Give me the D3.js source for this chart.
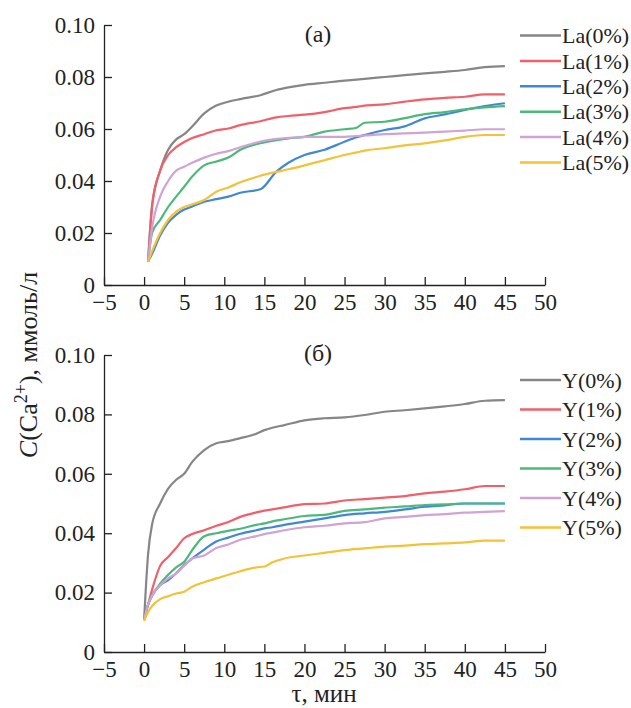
<!DOCTYPE html>
<html>
<head>
<meta charset="utf-8">
<script src="https://cdn.jsdelivr.net/npm/d3@7"></script>
<style>
  body { margin: 0; background: #fff; }
</style>
</head>
<body>
<div id="chart"></div>
<script>
// time grids (min)
var tLa = [0.5, 1, 2, 3, 4, 5, 6, 7.5, 9, 10.5, 12, 14.5, 16.5, 18, 20, 22.5, 25, 26.5, 27.5, 30, 32.5, 35, 37.5, 40, 42.5, 45];
var tY  = [0, 0.5, 1, 2, 3, 4, 5, 6, 7.5, 9, 10.5, 12, 14, 15, 16, 17.5, 20, 22.5, 25, 27.5, 30, 32.5, 35, 37.5, 40, 42.5, 45];

// panel (a): La
var la0 = [0.009, 0.031, 0.044, 0.052, 0.056, 0.058, 0.061, 0.066, 0.069, 0.0705, 0.0715, 0.073, 0.075, 0.076, 0.077, 0.0778, 0.0786, 0.079, 0.0793, 0.080, 0.0807, 0.0814, 0.082, 0.0827, 0.0838, 0.0842];
var la1 = [0.009, 0.030, 0.044, 0.050, 0.053, 0.055, 0.0565, 0.058, 0.0595, 0.0602, 0.0615, 0.063, 0.0645, 0.065, 0.0655, 0.0665, 0.068, 0.0685, 0.069, 0.0695, 0.0705, 0.0714, 0.072, 0.0724, 0.0733, 0.0733];
var la2 = [0.009, 0.012, 0.019, 0.024, 0.027, 0.029, 0.0302, 0.032, 0.033, 0.034, 0.0355, 0.0368, 0.0436, 0.047, 0.050, 0.052, 0.0551, 0.0568, 0.0577, 0.0596, 0.061, 0.0641, 0.0656, 0.0673, 0.0688, 0.0699];
var la3 = [0.009, 0.020, 0.025, 0.030, 0.034, 0.0378, 0.0417, 0.046, 0.0475, 0.049, 0.052, 0.0545, 0.0557, 0.0564, 0.057, 0.059, 0.0599, 0.0605, 0.0624, 0.0628, 0.0642, 0.0657, 0.0665, 0.0676, 0.0683, 0.0688];
var la4 = [0.009, 0.022, 0.034, 0.040, 0.044, 0.0455, 0.047, 0.049, 0.0505, 0.0515, 0.053, 0.0552, 0.0562, 0.0566, 0.057, 0.057, 0.057, 0.0573, 0.0575, 0.058, 0.0583, 0.0586, 0.059, 0.0594, 0.0599, 0.0599];
var la5 = [0.009, 0.013, 0.020, 0.025, 0.0282, 0.030, 0.031, 0.0327, 0.0359, 0.0375, 0.0395, 0.042, 0.0435, 0.0445, 0.046, 0.048, 0.050, 0.051, 0.0517, 0.0526, 0.0537, 0.0545, 0.0556, 0.057, 0.0577, 0.0577];

// panel (б): Y
var y0 = [0.0108, 0.033, 0.043, 0.050, 0.055, 0.058, 0.060, 0.064, 0.068, 0.0703, 0.071, 0.072, 0.0735, 0.0747, 0.0755, 0.0764, 0.078, 0.0787, 0.079, 0.0798, 0.0809, 0.0814, 0.082, 0.0827, 0.0835, 0.0846, 0.0848];
var y1 = [0.0108, 0.016, 0.021, 0.029, 0.032, 0.035, 0.0383, 0.0397, 0.041, 0.0425, 0.0438, 0.0455, 0.047, 0.0476, 0.048, 0.0487, 0.0498, 0.050, 0.051, 0.0515, 0.052, 0.0525, 0.0534, 0.054, 0.0548, 0.0559, 0.0559];
var y2 = [0.0108, 0.016, 0.019, 0.0225, 0.0242, 0.0265, 0.0293, 0.0315, 0.0345, 0.0372, 0.0385, 0.0398, 0.041, 0.0416, 0.042, 0.0428, 0.0439, 0.045, 0.0461, 0.0467, 0.0472, 0.048, 0.0489, 0.0494, 0.050, 0.050, 0.050];
var y3 = [0.0108, 0.016, 0.019, 0.023, 0.026, 0.0285, 0.0304, 0.0343, 0.039, 0.040, 0.0408, 0.0415, 0.0428, 0.0433, 0.044, 0.0447, 0.0458, 0.0462, 0.0475, 0.048, 0.0486, 0.049, 0.0495, 0.0497, 0.050, 0.050, 0.050];
var y4 = [0.0108, 0.016, 0.019, 0.0225, 0.0248, 0.0265, 0.029, 0.0315, 0.0325, 0.035, 0.0362, 0.0378, 0.039, 0.0397, 0.0402, 0.041, 0.042, 0.0425, 0.0433, 0.0437, 0.045, 0.0455, 0.0461, 0.0464, 0.0469, 0.0472, 0.0474];
var y5 = [0.0105, 0.0135, 0.0155, 0.0178, 0.0188, 0.0197, 0.0203, 0.022, 0.0235, 0.0248, 0.026, 0.0272, 0.0285, 0.0288, 0.0302, 0.0315, 0.0325, 0.0334, 0.0343, 0.0349, 0.0355, 0.0358, 0.0363, 0.0366, 0.0369, 0.0375, 0.0375];

var laNames = ["La(0%)", "La(1%)", "La(2%)", "La(3%)", "La(4%)", "La(5%)"];
var yNames  = ["Y(0%)", "Y(1%)", "Y(2%)", "Y(3%)", "Y(4%)", "Y(5%)"];
var colors  = ["#868686", "#f1606a", "#3f88d6", "#4cb97a", "#d0a2d6", "#f4c236"];

var xTicks = [-5, 0, 5, 10, 15, 20, 25, 30, 35, 40, 45, 50];
var yTicks = [0, 0.02, 0.04, 0.06, 0.08, 0.10];

var serif = "'Liberation Serif', serif";

var width = 631, height = 708;
var svg = d3.select("#chart").append("svg")
  .attr("width", width).attr("height", height);

var x = d3.scaleLinear().domain([-5, 50]).range([104, 545]);

function panel(opts) {
  var y = d3.scaleLinear().domain([0, 0.1]).range([opts.y0, opts.y1]);
  var g = svg.append("g");

  var xa = g.append("g")
    .attr("transform", "translate(0," + opts.y0 + ")")
    .call(d3.axisBottom(x).tickValues(xTicks).tickSizeInner(-8).tickSizeOuter(0).tickPadding(9));
  var ya = g.append("g")
    .attr("transform", "translate(104,0)")
    .call(d3.axisLeft(y).tickValues(yTicks).tickSizeInner(-8).tickSizeOuter(0).tickPadding(9)
      .tickFormat(function(d) { return d === 0 ? "0" : d3.format(".2f")(d); }));
  [xa, ya].forEach(function(a) {
    a.attr("font-family", null).attr("font-size", null);
    a.selectAll("path, line").attr("stroke", "#222").attr("stroke-width", 1.3);
    a.selectAll("text").style("font-size", "23px").style("font-family", serif).attr("fill", "#222");
  });

  var line = d3.line()
    .curve(d3.curveMonotoneX)
    .x(function(d) { return x(d[0]); })
    .y(function(d) { return y(d[1]); });

  opts.series.forEach(function(s, i) {
    g.append("path")
      .datum(opts.t.map(function(t, j) { return [t, s[j]]; }))
      .attr("fill", "none")
      .attr("stroke", colors[i])
      .attr("stroke-width", 2.2)
      .attr("stroke-linejoin", "round")
      .attr("d", line);
  });

  g.append("text")
    .attr("x", 318).attr("y", opts.titleY)
    .attr("text-anchor", "middle")
    .style("font-family", serif).style("font-size", "24px")
    .attr("fill", "#222")
    .text(opts.title);

  // legend
  var lg = g.selectAll(".leg").data(opts.names).enter().append("g")
    .attr("transform", function(d, i) { return "translate(520," + (opts.legY + i * opts.legStep) + ")"; });
  lg.append("line")
    .attr("x1", 0).attr("x2", 41)
    .attr("stroke", function(d, i) { return colors[i]; })
    .attr("stroke-width", 2.5);
  lg.append("text")
    .attr("x", 42).attr("dy", "0.35em")
    .style("font-family", serif).style("font-size", "22px")
    .attr("fill", "#222")
    .text(function(d) { return d; });
}

panel({ t: tLa, series: [la0, la1, la2, la3, la4, la5], names: laNames,
        y0: 285, y1: 25, title: "(a)", titleY: 42, legY: 35.5, legStep: 25.4 });
panel({ t: tY, series: [y0, y1, y2, y3, y4, y5], names: yNames,
        y0: 652, y1: 355, title: "(б)", titleY: 361, legY: 380, legStep: 29.5 });

// axis titles
var yl = svg.append("text")
  .attr("transform", "translate(37,365) rotate(-90)")
  .attr("text-anchor", "middle")
  .attr("fill", "#222")
  .style("font-family", serif).style("font-size", "26px");
yl.append("tspan").style("font-style", "italic").text("C");
yl.append("tspan").text("(Ca");
yl.append("tspan").attr("dy", -10).style("font-size", "18px").text("2+");
yl.append("tspan").attr("dy", 10).text("), ммоль/л");

svg.append("text")
  .attr("x", 324).attr("y", 702)
  .attr("text-anchor", "middle")
  .attr("fill", "#222")
  .style("font-family", serif).style("font-size", "25px")
  .text("τ, мин");
</script>
</body>
</html>
